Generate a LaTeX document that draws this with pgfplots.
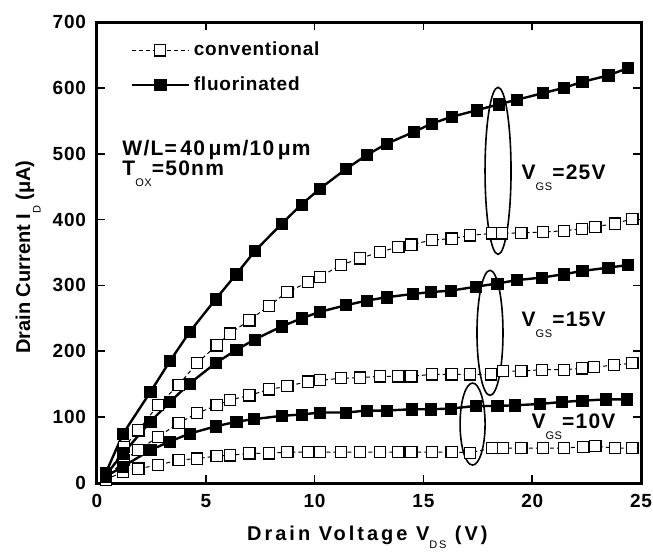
\documentclass[border=0pt]{standalone}
\usepackage{fontspec}
\setmainfont{Liberation Sans}
\usepackage{pgfplots}
\pgfplotsset{compat=1.18}

% small, non-bold subscript set low, as in the scan
\newcommand{\sub}[1]{\raisebox{-1.0ex}{\fontsize{5.5}{6}\selectfont\mdseries #1}}

\pgfplotsset{
  conv/.style={black, line width=0.5pt, dash pattern=on 2pt off 1.5pt,
    mark=square*, mark size=2.8pt,
    mark options={solid, fill=white, draw=black, line width=0.6pt}},
  fluo/.style={black, line width=1.2pt,
    mark=square*, mark size=2.8pt,
    mark options={solid, fill=black, draw=black, line width=0.3pt}},
}
\tikzset{
  annot/.style={anchor=west, inner sep=0pt,
    font=\fontsize{10.5}{12}\selectfont\bfseries\addfontfeature{LetterSpace=6}},
}

\begin{document}
\begin{tikzpicture}
\begin{axis}[
  width=272pt, height=230.5pt, scale only axis,
  xmin=0, xmax=25, ymin=0, ymax=700,
  xtick={0,5,10,15,20,25}, ytick={0,100,200,300,400,500,600,700},
  tick align=inside, major tick length=4pt,
  axis line style={line width=1.5pt},
  tick style={line width=0.8pt, black},
  /pgf/number format/assume math mode=true,
  ticklabel style={font=\fontsize{9.5}{11}\selectfont\bfseries\addfontfeature{LetterSpace=4}},
  xticklabel style={yshift=-2pt},
  yticklabel style={xshift=-2pt},
  xlabel={\addfontfeature{LetterSpace=15}Drain Voltage V\raisebox{-0.8ex}{\fontsize{5.5}{6}\selectfont\mdseries DS} (V)},
  ylabel={Drain Current I\sub{D} (μA)},
  label style={font=\fontsize{10}{12}\selectfont\bfseries, inner sep=0pt},
  xlabel style={at={(axis description cs:0.497,-0.124)}, anchor=base},
  ylabel style={at={(axis description cs:-0.123,0.49)}, anchor=base},
  legend style={draw=none, fill=none, at={(0.05,0.975)}, anchor=north west,
    font=\fontsize{9.5}{11}\selectfont\bfseries\addfontfeature{LetterSpace=4}, row sep=5pt,
    cells={anchor=west}},
  legend image code/.code={\draw[mark repeat=2, mark phase=2, #1]
    plot coordinates {(0cm,0cm) (0.5cm,0cm) (1cm,0cm)};},
]
% conventional
\addplot[conv, forget plot] coordinates {(0.4,8) (1.25,55) (1.9,80) (2.8,118) (3.75,149) (4.6,182) (5.5,209) (6.1,227) (7.0,247) (7.9,269) (8.75,290) (9.7,305) (10.25,313) (11.2,331) (12.1,341) (13.0,351) (13.85,358) (14.45,362) (15.4,369) (16.3,371) (17.15,376) (18.15,379) (18.6,379) (19.5,380) (20.5,381) (21.45,383) (22.3,386) (22.9,389) (23.8,394) (24.6,401)};
\addplot[conv, forget plot] coordinates {(0.4,6) (1.25,35) (1.9,50) (2.8,70) (3.75,91) (4.6,106) (5.5,118) (6.1,126) (7.0,133) (7.9,142) (8.75,147) (9.7,154) (10.25,156) (11.2,159) (12.1,160) (13.0,162) (13.85,162) (14.45,162) (15.4,165) (16.3,165) (17.15,165) (18.1,165) (18.65,170) (19.5,170) (20.45,172) (21.45,172) (22.3,174) (22.85,176) (23.75,179) (24.6,182)};
\addplot[conv, forget plot] coordinates {(0.4,5) (1.2,17) (1.9,22) (2.8,27) (3.75,35) (4.6,37) (5.5,41) (6.1,42) (7.0,45) (7.9,45) (8.75,47) (9.7,47) (10.25,47) (11.2,47) (12.1,47) (13.0,47) (13.85,47) (14.45,47) (15.4,47) (16.3,47) (17.15,46) (18.15,53) (18.65,53) (19.5,53) (20.5,53) (21.45,53) (22.35,55) (22.9,56) (23.8,53) (24.6,53)};
% fluorinated
\addplot[fluo, forget plot] coordinates {(0.4,15) (1.2,75) (2.45,138) (3.35,185) (4.25,229) (5.45,279) (6.4,317) (7.25,352) (8.5,394) (9.4,423) (10.25,447) (11.45,477) (12.4,498) (13.3,515) (14.55,533) (15.4,546) (16.3,556) (17.45,566) (18.45,575) (19.3,582) (20.5,592) (21.45,600) (22.3,609) (23.5,619) (24.4,630)};
\addplot[fluo, forget plot] coordinates {(0.4,12) (1.2,45) (2.45,93) (3.35,123) (4.25,151) (5.45,182) (6.4,202) (7.25,218) (8.5,238) (9.4,250) (10.25,260) (11.45,270) (12.4,277) (13.3,282) (14.5,287) (15.35,290) (16.25,292) (17.4,298) (18.4,303) (19.3,308) (20.45,312) (21.45,317) (22.3,322) (23.5,327) (24.4,331)};
\addplot[fluo, forget plot] coordinates {(0.4,10) (1.2,25) (2.45,50) (3.35,63) (4.25,75) (5.45,86) (6.4,93) (7.2,97) (8.5,102) (9.4,104) (10.25,107) (11.45,107) (12.4,110) (13.3,110) (14.45,112) (15.35,112) (16.25,113) (17.4,117) (18.4,117) (19.2,118) (20.35,120) (21.35,123) (22.3,125) (23.4,127) (24.35,127)};

\addlegendimage{conv}
\addlegendentry{conventional}
\addlegendimage{fluo}
\addlegendentry{fluorinated}

% ellipses grouping the curves of one gate voltage
\draw[line width=0.8pt] (axis cs:18.43,474) ellipse [x radius=6.5pt, y radius=41.75pt];
\draw[line width=0.8pt] (axis cs:18.06,228) ellipse [x radius=6.5pt, y radius=31.25pt];
\draw[line width=0.8pt] (axis cs:17.26,89.5) ellipse [x radius=6.25pt, y radius=20.5pt];

\node[annot] at (axis cs:19.5,464) {V\sub{GS}=25V};
\node[annot] at (axis cs:19.5,240) {V\sub{GS}=15V};
\node[annot] at (axis cs:19.95,85) {V\sub{GS}=10V};
\node[annot] at (axis cs:1.15,505) {W/L=\,40\,μm/10\,μm};
\node[annot] at (axis cs:1.15,470) {T\sub{OX}=50nm};
\end{axis}
\pgfresetboundingbox
\path ([shift={(-48.5pt,-35pt)}]current axis.south west) rectangle ([shift={(6pt,11pt)}]current axis.north east);
\end{tikzpicture}
\end{document}
